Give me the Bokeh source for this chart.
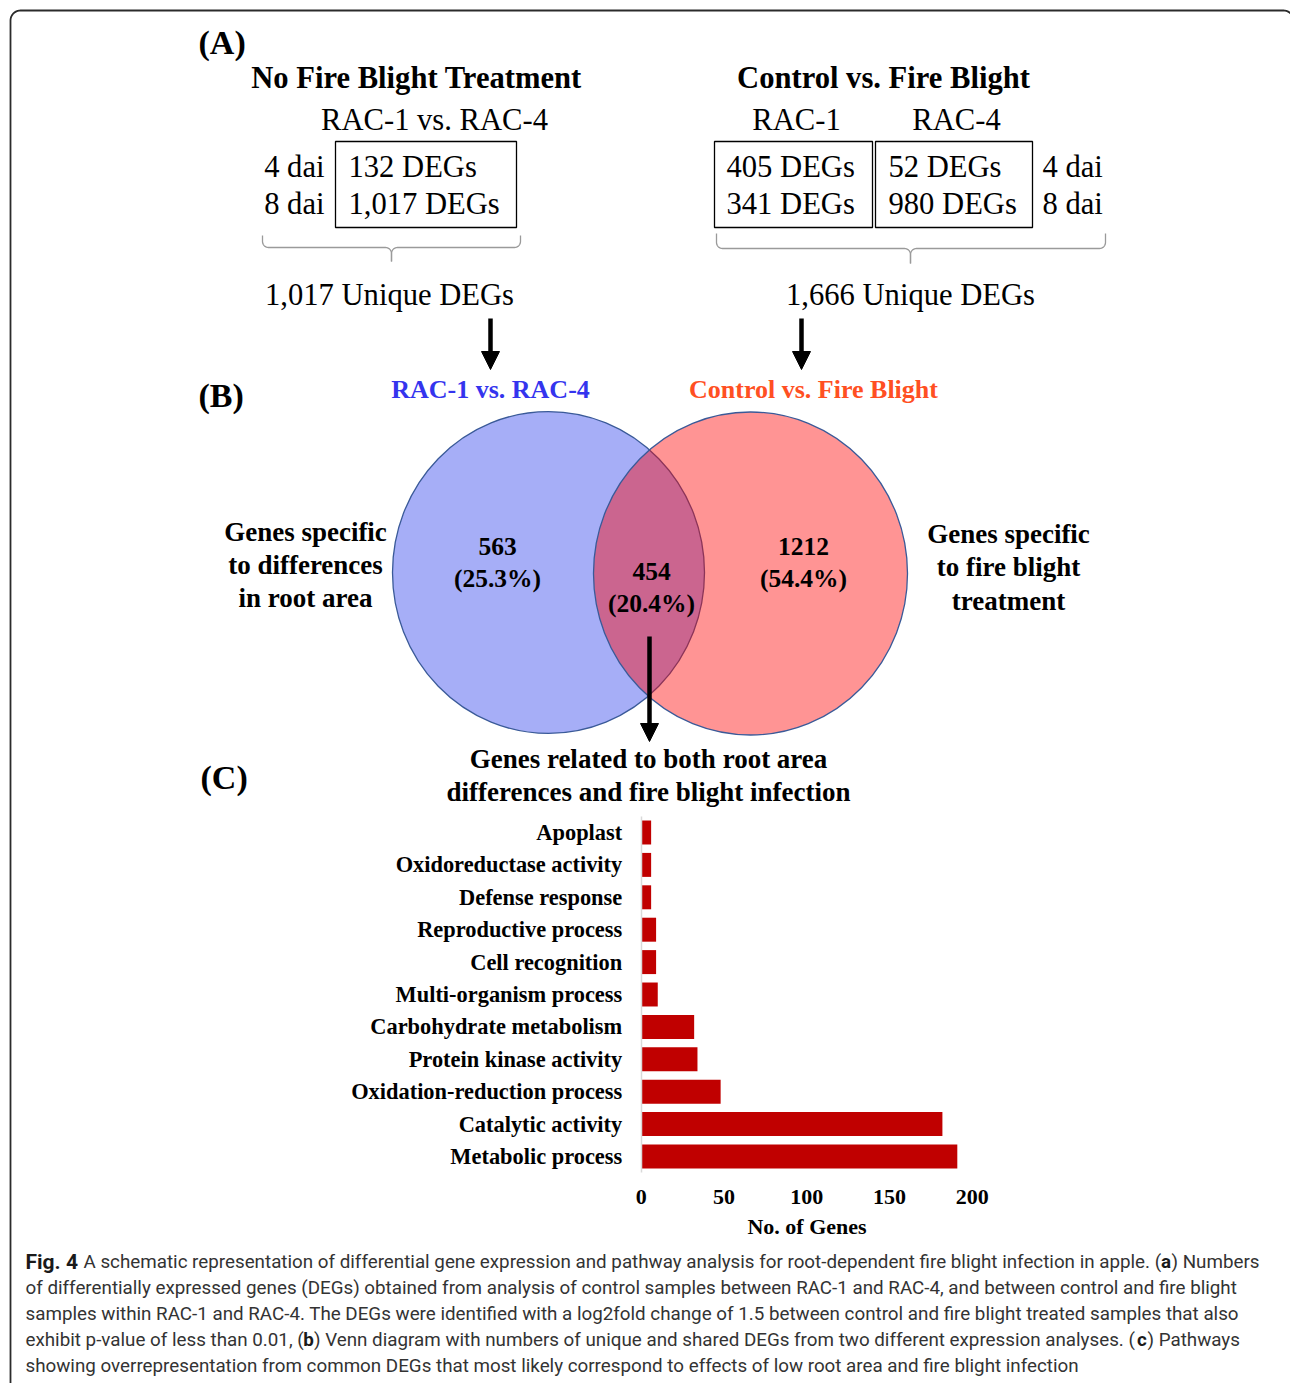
import numpy as np
from bokeh.plotting import figure
from bokeh.models import Range1d, LinearAxis, FixedTicker, Arrow, NormalHead
from bokeh.core.properties import value
from bokeh.embed import file_html
from bokeh.resources import INLINE

# ---------------- data ----------------
# (A) DEG counts per time point
days = ["4 dai", "8 dai"]
rac1_vs_rac4_degs = [132, 1017]
ctrl_vs_fb_rac1_degs = [405, 341]
ctrl_vs_fb_rac4_degs = [52, 980]
unique_root_degs = 1017
unique_fb_degs = 1666

# (B) Venn counts: root-area only, shared, fire-blight only
venn_counts = [563, 454, 1212]
venn_percent = [25.3, 20.4, 54.4]

# (C) enriched terms among the shared DEGs
terms = [
    "Apoplast",
    "Oxidoreductase activity",
    "Defense response",
    "Reproductive process",
    "Cell recognition",
    "Multi-organism process",
    "Carbohydrate metabolism",
    "Protein kinase activity",
    "Oxidation-reduction process",
    "Catalytic activity",
    "Metabolic process",
]
gene_counts = [6, 6, 6, 9, 9, 10, 32, 34, 48, 182, 191]
gene_ticks = [0, 50, 100, 150, 200]

caption_lines = [
    [("Fig. 4", True), ("A schematic representation of differential gene expression and pathway analysis for root-dependent fire blight infection in apple. (", False), ("a", True), (") Numbers", False)],
    [("of differentially expressed genes (DEGs) obtained from analysis of control samples between RAC-1 and RAC-4, and between control and fire blight", False)],
    [("samples within RAC-1 and RAC-4. The DEGs were identified with a log2fold change of 1.5 between control and fire blight treated samples that also", False)],
    [("exhibit p-value of less than 0.01, (", False), ("b", True), (") Venn diagram with numbers of unique and shared DEGs from two different expression analyses. (", False), ("c", True), (") Pathways", False)],
    [("showing overrepresentation from common DEGs that most likely correspond to effects of low root area and fire blight infection", False)],
]

# ---------------- canvas ----------------
W, H = 1290, 1383
p = figure(width=W, height=H, x_range=Range1d(0, W), y_range=Range1d(H, 0),
           x_axis_type=None, y_axis_type=None, output_backend="svg",
           toolbar_location=None, min_border=0, outline_line_color=None)
p.grid.visible = False
p.background_fill_color = "white"

SERIF = "Liberation Serif"
CAPTION_FONT = "Roboto"


def label(x, y, txt, size, bold=False, align="center", color="black", font=SERIF):
    p.text(x=[x], y=[y], text=[txt], text_font=value(font),
           text_font_size=f"{size}px", text_font_style="bold" if bold else "normal",
           text_align=align, text_baseline="middle", text_color=color)


def brace(x_left, x_right, x_tip, y_end, y_bar, y_tip, r=6, n=10):
    t = np.linspace(0, np.pi / 2, n)
    paths_x, paths_y = [], []
    for xe, s in ((x_left, 1), (x_right, -1)):
        xs = [xe]
        ys = [y_end]
        xs += list(xe + s * (r - r * np.cos(t)))
        ys += list(y_bar - r + r * np.sin(t))
        xs += list(x_tip - s * r + s * r * np.sin(t))
        ys += list(y_bar + r - r * np.cos(t))
        xs.append(x_tip)
        ys.append(y_tip)
        paths_x.append(xs)
        paths_y.append(ys)
    p.multi_line(xs=paths_x, ys=paths_y, line_color="#9a9a9a", line_width=1.3)


def down_arrow(x, y0, y1):
    p.add_layout(Arrow(end=NormalHead(size=18, fill_color="black", line_color="black"),
                       x_start=x, y_start=y0, x_end=x, y_end=y1,
                       line_color="black", line_width=4.5))


# outer frame with rounded top corners (right side runs off the page)
R = 10
t = np.linspace(0, np.pi / 2, 12)
fx = [10] + list(10 + R - R * np.cos(t)) + list(1293 - R + R * np.sin(t)) + [1293]
fy = [H + 5] + list(10 + R - R * np.sin(t)) + list(10 + R - R * np.cos(t)) + [H + 5]
p.line(fx, fy, line_color="#2b2b2b", line_width=1.8)

# ---------------- (A) ----------------
label(198, 42, "(A)", 34, bold=True, align="left")
label(416, 77, "No Fire Blight Treatment", 30.6, bold=True)
label(434, 119, "RAC-1 vs. RAC-4", 30.6)
p.quad(left=[335], right=[516], top=[141], bottom=[227], fill_color=None, line_color="black", line_width=1.3)
row_y = [166, 203]
for yy, d, n in zip(row_y, days, rac1_vs_rac4_degs):
    label(324, yy, d, 30.6, align="right")
    label(348, yy, f"{n:,} DEGs", 30.6, align="left")
brace(262, 520, 391, 235, 247, 261)
label(389, 294, f"{unique_root_degs:,} Unique DEGs", 30.6)
down_arrow(490, 318, 369)

label(883, 77, "Control vs. Fire Blight", 30.6, bold=True)
label(796, 119, "RAC-1", 30.6)
label(956, 119, "RAC-4", 30.6)
p.quad(left=[714, 875], right=[872, 1032], top=[141, 141], bottom=[227, 227],
       fill_color=None, line_color="black", line_width=1.3)
for yy, d, a, b in zip(row_y, days, ctrl_vs_fb_rac1_degs, ctrl_vs_fb_rac4_degs):
    label(726, yy, f"{a:,} DEGs", 30.6, align="left")
    label(888, yy, f"{b:,} DEGs", 30.6, align="left")
    label(1042, yy, d, 30.6, align="left")
brace(716, 1105, 910, 233, 248, 263)
label(910, 294, f"{unique_fb_degs:,} Unique DEGs", 30.6)
down_arrow(801, 318, 369)

# ---------------- (B) ----------------
label(198, 395, "(B)", 34, bold=True, align="left")
label(490, 389, "RAC-1 vs. RAC-4", 26, bold=True, color="#3434EE")
label(813, 389, "Control vs. Fire Blight", 26, bold=True, color="#FF4F22")

p.ellipse(x=[548], y=[572], width=312, height=322, fill_color="#2B3EEC", fill_alpha=0.42,
          line_color="#3A5A98", line_width=1.3)
p.ellipse(x=[750], y=[573], width=314, height=323, fill_color="#FF0000", fill_alpha=0.42,
          line_color="#3A5A98", line_width=1.3)

venn_x = [497, 651, 803]
venn_y = [546, 571, 546]
for xx, yy, c, pc in zip(venn_x, venn_y, venn_counts, venn_percent):
    label(xx, yy, f"{c}", 25.5, bold=True)
    label(xx, yy + 32, f"({pc:.1f}%)", 25.5, bold=True)

for i, s in enumerate(["Genes specific", "to differences", "in root area"]):
    label(305, 531 + 33 * i, s, 27, bold=True)
for i, s in enumerate(["Genes specific", "to fire blight", "treatment"]):
    label(1008, 533 + 33.5 * i, s, 27, bold=True)

down_arrow(649, 636, 741)
label(648, 758, "Genes related to both root area", 27, bold=True)
label(648, 791, "differences and fire blight infection", 27, bold=True)

# ---------------- (C) ----------------
label(200, 777, "(C)", 34, bold=True, align="left")

zero_px, px_per_gene = 640.7, 1.655
first_row_px, row_step = 832.0, 32.4
p.extra_x_ranges = {"genes": Range1d(-zero_px / px_per_gene, (W - zero_px) / px_per_gene)}
p.extra_y_ranges = {"terms": Range1d((H - first_row_px) / row_step, -first_row_px / row_step)}

rows = list(range(len(terms)))
p.hbar(y=rows, left=0, right=gene_counts, height=0.74, fill_color="#C00000", line_color=None,
       x_range_name="genes", y_range_name="terms")

yax = LinearAxis(x_range_name="genes", y_range_name="terms", fixed_location=0,
                 bounds=(-0.5, len(terms) - 0.5),
                 ticker=FixedTicker(ticks=rows, minor_ticks=[]),
                 major_label_overrides={i: t for i, t in enumerate(terms)},
                 axis_line_color="#d9d9d9", axis_line_width=1.5,
                 major_tick_line_color=None, minor_tick_line_color=None,
                 major_tick_in=0, major_tick_out=0, minor_tick_in=0, minor_tick_out=0,
                 major_label_standoff=19, major_label_text_font=SERIF,
                 major_label_text_font_size="22.4px", major_label_text_font_style="bold",
                 major_label_text_color="black")
p.add_layout(yax, "left")

xax = LinearAxis(x_range_name="genes", y_range_name="terms", fixed_location=len(terms) - 0.5,
                 bounds=(gene_ticks[0], gene_ticks[-1]),
                 ticker=FixedTicker(ticks=gene_ticks, minor_ticks=[]),
                 axis_line_color=None, major_tick_line_color=None, minor_tick_line_color=None,
                 major_tick_in=0, major_tick_out=0, minor_tick_in=0, minor_tick_out=0,
                 major_label_standoff=17, major_label_text_font=SERIF,
                 major_label_text_font_size="22px", major_label_text_font_style="bold",
                 major_label_text_color="black",
                 axis_label="No. of Genes", axis_label_standoff=7,
                 axis_label_text_font=SERIF, axis_label_text_font_size="22px",
                 axis_label_text_font_style="bold", axis_label_text_color="black")
p.add_layout(xax, "below")

# ---------------- caption ----------------
cap_y = [1261, 1287, 1313, 1339, 1365]
CAP = 18.8
# anchor of each segment: (x, align, size)
cap_anchor = [
    [(25, "left", 21), (83, "left", CAP), (1165.5, "center", CAP), (1171, "left", CAP)],
    [(25, "left", CAP)],
    [(25, "left", CAP)],
    [(25, "left", CAP), (308, "center", CAP), (313.5, "left", CAP), (1141.5, "center", CAP), (1147, "left", CAP)],
    [(25, "left", CAP)],
]
for yy, segs, anchors in zip(cap_y, caption_lines, cap_anchor):
    for (txt, bold), (xx, al, sz) in zip(segs, anchors):
        p.text(x=[xx], y=[yy], text=[txt], text_font=value(CAPTION_FONT),
               text_font_size=f"{sz}px", text_font_style="bold" if bold else "normal",
               text_align=al, text_baseline="middle",
               text_color="#1a1a1a" if bold else "#333333")

open("out.html", "w").write(file_html(p, INLINE))
